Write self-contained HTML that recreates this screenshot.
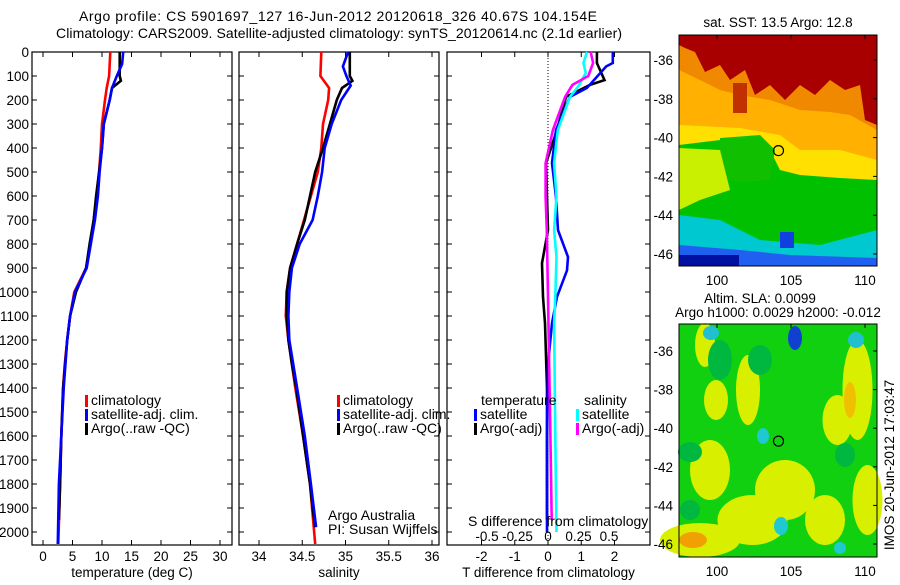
<!DOCTYPE html>
<html><head><meta charset="utf-8"><style>
body{margin:0;background:#fff;}
svg text{font-family:"Liberation Sans",sans-serif;font-size:13.5px;fill:#000;}
svg text.big{font-size:14px;}
</style></head><body>
<svg id="fig" width="900" height="580" viewBox="0 0 900 580" xmlns="http://www.w3.org/2000/svg">
<text class="big" x="338" y="21" text-anchor="middle" textLength="518">Argo profile: CS 5901697_127 16-Jun-2012 20120618_326 40.67S 104.154E</text>
<text class="big" x="339" y="38" text-anchor="middle" textLength="566">Climatology: CARS2009. Satellite-adjusted climatology: synTS_20120614.nc (2.1d earlier)</text>
<g id="maps"></g>
<g id="panels"></g>
</svg>
<script>
// ---------------- data ----------------
const depthTicks=[0,100,200,300,400,500,600,700,800,900,1000,1100,1200,1300,1400,1500,1600,1700,1800,1900,2000];
const tempTicks=[0,5,10,15,20,25,30];
const salTicks=[34,34.5,35,35.5,36];
const salTickLabels=["34","34.5","35","35.5","36"];
const tdTicks=[-2,-1,0,1,2];
const sdTicks=[-0.5,-0.25,0,0.25,0.5];
const sdTickLabels=["-0.5","-0.25","0","0.25","0.5"];

const tClimDepth=[0,100,150,200,300,400,500,600,700,800,900,1000,1100,1200,1300,1400,1600,1800,2050];
const tClimVal=[11.4,11.2,10.8,10.5,10.0,9.8,9.5,9.1,8.6,8.0,7.3,5.3,4.6,4.1,3.7,3.4,3.1,2.9,2.6];
const tArgoDepth=[0,100,120,150,200,300,400,500,600,700,800,900,1000,1100,1200,1400,1600,1800,1950];
const tArgoVal=[13.0,13.0,13.2,11.7,11.3,10.3,10.0,9.5,9.0,8.6,7.9,7.3,5.6,4.6,4.1,3.4,3.1,2.9,2.7];
const tSatDepth=[0,50,100,150,200,300,400,500,600,700,800,900,1000,1100,1200,1400,1600,1800,2050];
const tSatVal=[13.6,13.4,12.5,11.7,11.3,10.3,10.0,9.6,9.3,8.8,8.1,7.4,5.4,4.6,4.1,3.5,3.1,2.7,2.5];

const sClimDepth=[0,100,150,200,300,400,500,600,700,800,900,1000,1100,1200,1400,1600,1800,2050];
const sClimVal=[34.72,34.71,34.81,34.80,34.74,34.72,34.68,34.60,34.52,34.44,34.36,34.32,34.31,34.34,34.42,34.51,34.59,34.65];
const sArgoDepth=[0,100,120,150,200,300,400,500,600,700,800,900,1000,1100,1200,1300,1400,1600,1800,1900,1980];
const sArgoVal=[35.05,35.05,35.08,34.96,34.90,34.82,34.74,34.65,34.59,34.53,34.44,34.36,34.32,34.32,34.34,34.38,34.43,34.51,34.59,34.62,34.65];
const sSatDepth=[0,60,100,140,200,300,400,500,600,700,800,900,1000,1100,1200,1400,1600,1800,1980];
const sSatVal=[35.03,34.97,35.01,35.06,34.95,34.84,34.76,34.73,34.68,34.62,34.47,34.38,34.35,34.34,34.35,34.44,34.53,34.60,34.66];

const dTSatDepth=[0,46,60,150,187,325,463,604,742,854,910,1020,1130,1300,1600,2000];
const dTSatVal=[1.95,1.95,1.75,1.17,0.66,0.24,0.12,0.24,0.30,0.60,0.57,0.27,0.12,0.0,-0.03,-0.03];
const dTArgoDepth=[0,46,117,137,187,325,463,604,742,880,1020,1130,1400,1950];
const dTArgoVal=[1.47,1.47,1.7,1.26,0.54,0.27,-0.06,-0.03,0,-0.18,-0.15,-0.09,-0.03,-0.03];
const dSSatDepth=[0,46,87,142,187,325,463,604,742,854,1020,1130,1600,2000];
const dSSatVal=[0.32,0.29,0.31,0.25,0.18,0.08,0.05,0.07,0.05,0.07,0.06,0.05,0.06,0.07];
const dSArgoDepth=[0,46,100,137,187,325,463,604,742,1020,1600,1950];
const dSArgoVal=[0.35,0.37,0.33,0.20,0.14,0.04,-0.02,-0.02,-0.01,0,0.02,0.03];

const mapLonTicks=[100,105,110];
const mapLatTicks=[-36,-38,-40,-42,-44,-46];
const argoLon=104.154, argoLat=-40.67;

// ---------------- helpers ----------------
const NS="http://www.w3.org/2000/svg";
function mk(tag,attrs,parent,txt){const e=document.createElementNS(NS,tag);for(const k in attrs)e.setAttribute(k,attrs[k]);if(txt!==undefined)e.textContent=txt;parent.appendChild(e);return e;}
const TOP=52, BOT=545;
const yD=d=>TOP+d*0.24;
const panelsG=document.getElementById('panels');

function panel(name,x0,x1,xf,ticks,labels,xtitle,noDepthLabels){
  const g=mk('g',{},panelsG);
  
  
  const r=mk('rect',{x:x0,y:TOP,width:x1-x0,height:BOT-TOP,fill:'none',stroke:'#000','stroke-width':1.2},g);
  
  
  depthTicks.forEach(d=>{
    const y=yD(d);
    mk('line',{x1:x0,x2:x0+5,y1:y,y2:y,stroke:'#000'},g);
    mk('line',{x1:x1-5,x2:x1,y1:y,y2:y,stroke:'#000'},g);
    if(!noDepthLabels){const t=mk('text',{x:x0-3,y:y+5,'text-anchor':'end'},g,String(d));
      
      }
  });
  ticks.forEach((v,i)=>{
    const x=xf(v);
    mk('line',{x1:x,x2:x,y1:TOP,y2:TOP+5,stroke:'#000'},g);
    mk('line',{x1:x,x2:x,y1:BOT-5,y2:BOT,stroke:'#000'},g);
    const t=mk('text',{x:x,y:561,'text-anchor':'middle'},g,labels?labels[i]:String(v));
    
    
  });
  const tt=mk('text',{x:(x0+x1)/2,y:577,'text-anchor':'middle'},g,xtitle);
  
  
  return g;
}
function line(g,name,depths,vals,xf,color){
  const pts=depths.map((d,i)=>xf(vals[i]).toFixed(1)+','+yD(d).toFixed(1)).join(' ');
  const p=mk('polyline',{points:pts,fill:'none',stroke:color,'stroke-width':2.6,'stroke-linejoin':'miter'},g);
  
  
}
function legend(g,x,y,color,label){
  const r=mk('rect',{x:x,y:y-10,width:3,height:12,fill:color},g);
  
  
  const t=mk('text',{x:x+6,y:y,'class':'big'},g,label);
  
  
}

// panel 1 temperature
const xT=v=>43+5.9*v;
const p1=panel('temperature-panel',32,232,xT,tempTicks,null,'temperature (deg C)');
line(p1,'temp-climatology-line',tClimDepth,tClimVal,xT,'#ff0000');
line(p1,'temp-argo-line',tArgoDepth,tArgoVal,xT,'#000000');
line(p1,'temp-satellite-line',tSatDepth,tSatVal,xT,'#0000ff');
legend(p1,85,405,'#ff0000','climatology');
legend(p1,85,419,'#0000ff','satellite-adj. clim.');
legend(p1,85,433,'#000000','Argo(..raw -QC)');

// panel 2 salinity
const xS=v=>259+86.5*(v-34);
const p2=panel('salinity-panel',239,439,xS,salTicks,salTickLabels,'salinity',true);
line(p2,'sal-climatology-line',sClimDepth,sClimVal,xS,'#ff0000');
line(p2,'sal-argo-line',sArgoDepth,sArgoVal,xS,'#000000');
line(p2,'sal-satellite-line',sSatDepth,sSatVal,xS,'#0000ff');
legend(p2,337,405,'#ff0000','climatology');
legend(p2,337,419,'#0000ff','satellite-adj. clim.');
legend(p2,337,433,'#000000','Argo(..raw -QC)');
let t1=mk('text',{x:328,y:520,'class':'big'},p2,'Argo Australia');


let t2=mk('text',{x:328,y:534,'class':'big'},p2,'PI: Susan Wijffels');



// panel 3 differences
const xTD=v=>548+33.25*v;
const xSD=v=>548+122*v;
const p3=panel('difference-panel',447,650,xTD,tdTicks,null,'T difference from climatology',true);
const zl=mk('line',{x1:xTD(0),x2:xTD(0),y1:TOP,y2:BOT,stroke:'#000','stroke-dasharray':'1,2'},p3);


line(p3,'dT-argo-line',dTArgoDepth,dTArgoVal,xTD,'#000000');
line(p3,'dT-satellite-line',dTSatDepth,dTSatVal,xTD,'#0000ff');
line(p3,'dS-satellite-line',dSSatDepth,dSSatVal,xSD,'#00ffff');
line(p3,'dS-argo-line',dSArgoDepth,dSArgoVal,xSD,'#ff00ff');
let h1=mk('text',{x:481,y:405,'class':'big'},p3,'temperature');


let h2=mk('text',{x:584,y:405,'class':'big'},p3,'salinity');


legend(p3,474,419,'#0000ff','satellite');
legend(p3,474,433,'#000000','Argo(-adj)');
legend(p3,576,419,'#00ffff','satellite');
legend(p3,576,433,'#ff00ff','Argo(-adj)');
let sdt=mk('text',{x:468,y:526,'class':'big'},p3,'S difference from climatology');


sdTicks.forEach((v,i)=>{
  const t=mk('text',{x:xSD(v),y:541,'text-anchor':'middle'},p3,sdTickLabels[i]);
  
  
});

// ---------------- maps ----------------
const mapsG=document.getElementById('maps');
function mapFrame(name,y0,y1,lat36y,lat46y,labelY){
  const g=mk('g',{},mapsG);
  
  
  const xL=v=>717+(v-100)*14.8;
  const yL=v=>lat36y+(-36-v)*(lat46y-lat36y)/10;
  return {g,xL,yL,x0:679,x1:877,y0,y1,labelY};
}
function finishMap(m){
  const g=m.g;
  const r=mk('rect',{x:m.x0,y:m.y0,width:m.x1-m.x0,height:m.y1-m.y0,fill:'none',stroke:'#000'},g);
  
  
  mapLonTicks.forEach(v=>{const x=m.xL(v);
    mk('line',{x1:x,x2:x,y1:m.y0,y2:m.y0+4,stroke:'#000'},g);
    const t=mk('text',{x:x,y:m.labelY,'text-anchor':'middle'},g,String(v));
    
    });
  mapLatTicks.forEach(v=>{const y=m.yL(v);
    mk('line',{x1:m.x1-4,x2:m.x1,y1:y,y2:y,stroke:'#000'},g);
    const t=mk('text',{x:673,y:y+5,'text-anchor':'end'},g,String(v));
    
    });
  const c=mk('circle',{cx:m.xL(argoLon),cy:m.yL(argoLat),r:5,fill:'none',stroke:'#000','stroke-width':1.2},g);
  
  
}
function rect(g,x,y,w,h,f){mk('rect',{x,y,width:w,height:h,fill:f},g);}
function poly(g,pts,f){mk('polygon',{points:pts,fill:f},g);}

// SST map
const m1=mapFrame('sst-map',35,266,60,254,285);
const sg=m1.g;
rect(sg,679,35,198,231,'#00c000');
poly(sg,'679,35 877,35 877,180 840,178 800,175 780,170 770,150 740,140 720,140 679,145','#ffe000');
poly(sg,'679,35 877,35 877,160 840,150 800,150 780,135 740,128 679,125','#ffb000');
poly(sg,'679,35 877,35 877,130 850,115 830,112 800,110 770,100 740,95 720,90 700,80 679,70','#f08800');
poly(sg,'679,35 877,35 877,125 865,120 860,85 845,90 830,80 815,95 800,85 785,100 770,85 755,95 745,70 730,80 720,65 705,72 695,52 685,48 679,45','#a80000');
rect(sg,733,83,14,30,'#c03000');
poly(sg,'720,138 760,135 775,150 770,180 740,182 720,178','#10c000');
poly(sg,'679,148 720,150 730,190 700,200 679,210','#c8f000');
poly(sg,'679,215 720,220 760,240 820,245 877,230 877,266 679,266','#00c8d0');
poly(sg,'679,245 740,250 790,255 877,258 877,266 679,266','#2060f0');
rect(sg,679,255,60,11,'#0010a0');
rect(sg,780,232,14,16,'#1040e0');
finishMap(m1);
let mt1=mk('text',{x:778,y:27,'text-anchor':'middle'},mapsG,'sat. SST: 13.5 Argo: 12.8');



// SLA map
const m2=mapFrame('sla-map',324,557,351,544,576);
const lg=m2.g;
rect(lg,679,324,198,233,'#10d010');
const yellow='#d8f000';
[[700,345,10,22],[710,400,12,20],[742,390,12,35],[735,520,35,25],[815,520,20,25],[850,390,15,50],[860,500,15,35],[700,470,20,30],[770,490,30,30],[830,420,15,25],[680,540,40,17]].forEach(b=>{
  mk('ellipse',{cx:b[0]+b[2]/2,cy:b[1],rx:b[2],ry:b[3],fill:yellow},lg);
});
mk('ellipse',{cx:693,cy:540,rx:14,ry:8,fill:'#f0a000'},lg);
mk('ellipse',{cx:850,cy:400,rx:6,ry:18,fill:'#f0c000'},lg);
[[795,338,7,12,'#1040d0'],[711,333,8,7,'#20c0d0'],[856,340,8,8,'#20c0d0'],[763,436,6,8,'#20c8d0'],[781,526,7,9,'#20c8d0'],[840,548,6,6,'#20c8d0']].forEach(b=>{
  mk('ellipse',{cx:b[0],cy:b[1],rx:b[2],ry:b[3],fill:b[4]},lg);
});
[[690,452,12,10],[720,360,12,20],[760,360,12,15],[845,455,10,12],[690,510,10,10]].forEach(b=>{
  mk('ellipse',{cx:b[0],cy:b[1],rx:b[2],ry:b[3],fill:'#00b840'},lg);
});
finishMap(m2);
let mt2=mk('text',{x:760,y:303,'text-anchor':'middle'},mapsG,'Altim. SLA: 0.0099');


let mt3=mk('text',{x:778,y:317,'text-anchor':'middle'},mapsG,'Argo h1000: 0.0029 h2000: -0.012');


let vt=mk('text',{x:0,y:0,'text-anchor':'middle',transform:'translate(894,465) rotate(-90)'},mapsG,'IMOS 20-Jun-2012 17:03:47');


</script>
</body></html>
